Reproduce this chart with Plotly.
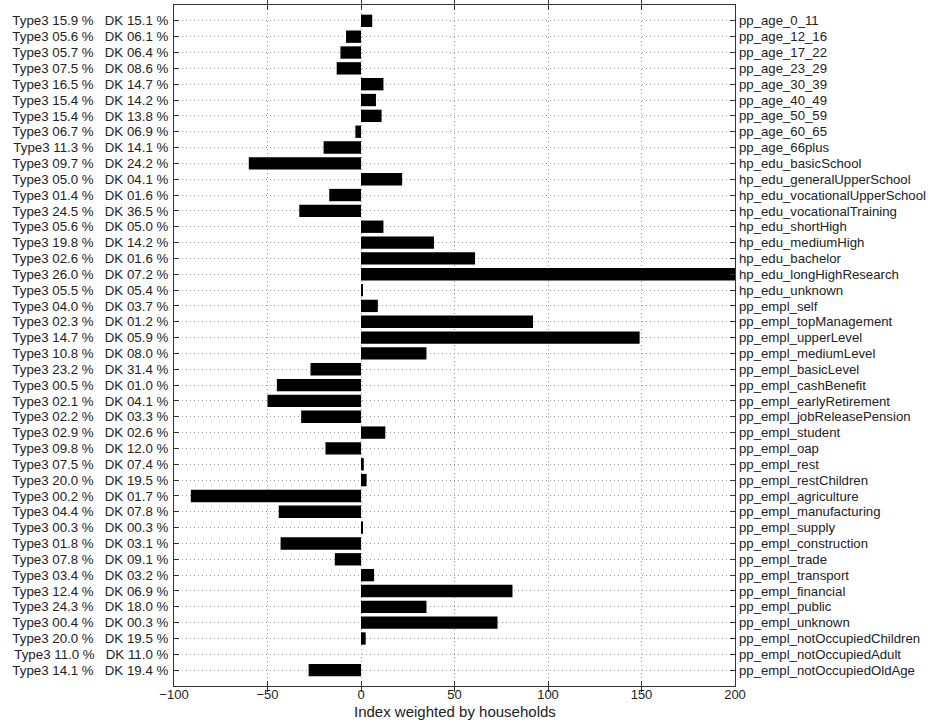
import plotly.graph_objects as go

categories = [
    "pp_age_0_11", "pp_age_12_16", "pp_age_17_22", "pp_age_23_29", "pp_age_30_39",
    "pp_age_40_49", "pp_age_50_59", "pp_age_60_65", "pp_age_66plus",
    "hp_edu_basicSchool", "hp_edu_generalUpperSchool", "hp_edu_vocationalUpperSchool",
    "hp_edu_vocationalTraining", "hp_edu_shortHigh", "hp_edu_mediumHigh", "hp_edu_bachelor",
    "hp_edu_longHighResearch", "hp_edu_unknown",
    "pp_empl_self", "pp_empl_topManagement", "pp_empl_upperLevel", "pp_empl_mediumLevel",
    "pp_empl_basicLevel", "pp_empl_cashBenefit", "pp_empl_earlyRetirement",
    "pp_empl_jobReleasePension", "pp_empl_student", "pp_empl_oap", "pp_empl_rest",
    "pp_empl_restChildren", "pp_empl_agriculture", "pp_empl_manufacturing", "pp_empl_supply",
    "pp_empl_construction", "pp_empl_trade", "pp_empl_transport", "pp_empl_financial",
    "pp_empl_public", "pp_empl_unknown", "pp_empl_notOccupiedChildren",
    "pp_empl_notOccupiedAdult", "pp_empl_notOccupiedOldAge",
]

type3_pct = ["15.9", "05.6", "05.7", "07.5", "16.5", "15.4", "15.4", "06.7", "11.3",
             "09.7", "05.0", "01.4", "24.5", "05.6", "19.8", "02.6", "26.0", "05.5",
             "04.0", "02.3", "14.7", "10.8", "23.2", "00.5", "02.1", "02.2", "02.9",
             "09.8", "07.5", "20.0", "00.2", "04.4", "00.3", "01.8", "07.8", "03.4",
             "12.4", "24.3", "00.4", "20.0", "11.0", "14.1"]

dk_pct = ["15.1", "06.1", "06.4", "08.6", "14.7", "14.2", "13.8", "06.9", "14.1",
          "24.2", "04.1", "01.6", "36.5", "05.0", "14.2", "01.6", "07.2", "05.4",
          "03.7", "01.2", "05.9", "08.0", "31.4", "01.0", "04.1", "03.3", "02.6",
          "12.0", "07.4", "19.5", "01.7", "07.8", "00.3", "03.1", "09.1", "03.2",
          "06.9", "18.0", "00.3", "19.5", "11.0", "19.4"]

index_values = [6, -8, -11, -13, 12, 8, 11, -3, -20,
                -60, 22, -17, -33, 12, 39, 61, 261, 1,
                9, 92, 149, 35, -27, -45, -50, -32, 13,
                -19, 1.5, 3, -91, -44, 1, -43, -14, 7,
                81, 35, 73, 2.5, 0, -28]

x_ticks = [-100, -50, 0, 50, 100, 150, 200]
x_title = "Index weighted by households"

positions = list(range(len(categories)))
left_labels = [f"Type3 {a} %   DK {b} %" for a, b in zip(type3_pct, dk_pct)]

FONT = "Liberation Sans, Arial, sans-serif"
PLOT_TOP, PLOT_BOTTOM = 5, 686
H = 723
GRID = dict(showgrid=True, gridcolor="#999999", griddash="1px,3px", gridwidth=1)

fig = go.Figure()
fig.add_trace(go.Bar(
    x=index_values, y=positions, orientation="h",
    marker=dict(color="black", line=dict(width=0)),
    width=0.78, cliponaxis=True, showlegend=False,
))
fig.add_trace(go.Scatter(
    x=[0] * len(positions), y=positions, yaxis="y2", mode="markers",
    marker=dict(opacity=0, size=1), hoverinfo="skip", showlegend=False,
))

yrange = [len(categories) - 1 + 1.0, -1.0]

fig.update_layout(
    width=935, height=H,
    margin=dict(l=174, r=200, t=PLOT_TOP, b=H - PLOT_BOTTOM),
    paper_bgcolor="white", plot_bgcolor="white",
    font=dict(family=FONT, size=13, color="#222"),
    xaxis=dict(
        range=[-100, 200], tickvals=x_ticks, ticks="inside", ticklen=5,
        tickcolor="#333", showline=True, linecolor="#333", linewidth=1, mirror="allticks",
        zeroline=False, automargin=False, ticklabelstandoff=-4,
        tickfont=dict(size=13), **GRID,
    ),
    yaxis=dict(
        range=yrange, tickvals=positions, ticktext=left_labels,
        ticks="inside", ticklen=5, tickcolor="#333",
        showline=True, linecolor="#333", linewidth=1, mirror=True,
        zeroline=False, tickfont=dict(size=13.3), automargin=False,
        ticklabelstandoff=2, **GRID,
    ),
    yaxis2=dict(
        range=yrange, tickvals=positions, ticktext=categories,
        overlaying="y", side="right", anchor="x",
        ticks="inside", ticklen=5, tickcolor="#333",
        showline=False, showgrid=False, zeroline=False, tickfont=dict(size=13.2),
        automargin=False, ticklabelstandoff=3,
    ),
    annotations=[dict(
        text=x_title, xref="paper", yref="paper", x=0.5,
        y=-(711 - PLOT_BOTTOM) / (PLOT_BOTTOM - PLOT_TOP),
        xanchor="center", yanchor="middle", showarrow=False,
        font=dict(size=15, color="#222"),
    )],
)

fig.write_html(
    "out.html",
    config={"displayModeBar": False},
    post_script="document.body.style.margin='0';document.body.style.overflow='hidden';",
)
